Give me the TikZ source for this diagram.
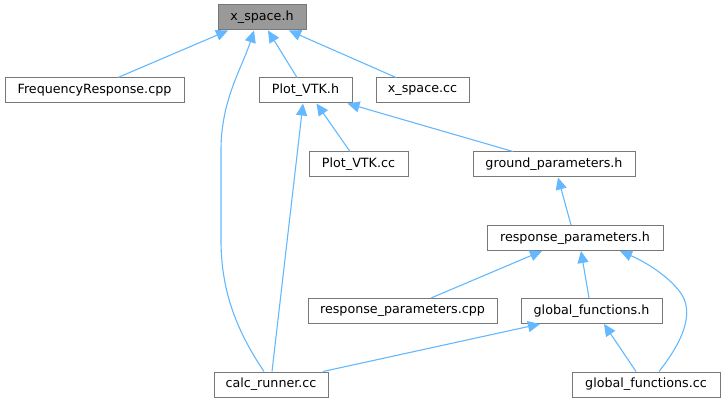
\documentclass[tikz,border=0pt]{standalone}
\usepackage{fontspec}
\setmainfont{DejaVu Sans}
\usetikzlibrary{arrows.meta}
\definecolor{edgeblue}{RGB}{99,184,255}
\definecolor{boxline}{RGB}{120,120,120}
\definecolor{boxfill}{RGB}{153,153,153}
\tikzset{
  file/.style={draw=boxline, fill=white, line width=1pt, minimum height=25, inner sep=0pt,
    font=\fontsize{12.7}{14}\selectfont},
  focus/.style={file, fill=boxfill},
  incl/.style={draw=edgeblue, line width=1.1pt, -{Triangle[length=12pt,width=11pt]}}
}

\begin{document}
\begin{tikzpicture}[x=1pt, y=-1pt]
  \useasboundingbox (0,0) rectangle (728,403);
  % ------------------------------------------------------------------ files
  \node[focus, minimum width=88] (xspace) at (262,17.5) {x\_space.h};
  \node[file, minimum width=179] (freq) at (94.5,90.5) {FrequencyResponse.cpp};
  \node[file, minimum width=93] (plotvtkh) at (305.5,90.5) {Plot\_VTK.h};
  \node[file, minimum width=93] (xspacecc) at (422.5,90.5) {x\_space.cc};
  \node[file, minimum width=99] (plotvtkcc) at (358.5,164.5) {Plot\_VTK.cc};
  \node[file, minimum width=162] (ground) at (554,164.5) {ground\_parameters.h};
  \node[file, minimum width=176] (resph) at (575,238) {response\_parameters.h};
  \node[file, minimum width=189] (respcpp) at (402.5,311) {response\_parameters.cpp};
  \node[file, minimum width=141] (globh) at (591.5,311) {global\_functions.h};
  \node[file, minimum width=114] (calc) at (271,384.5) {calc\_runner.cc};
  \node[file, minimum width=148] (globcc) at (646,384.5) {global\_functions.cc};
  % ------------------------------------------------------------------ includes
  \draw[incl] ([xshift=23.5pt]freq.north) -- ([xshift=-34pt]xspace.south);
  \draw[incl] ([xshift=-8.5pt]plotvtkh.north) -- ([xshift=6pt]xspace.south);
  \draw[incl] ([xshift=-26.5pt]xspacecc.north) -- ([xshift=27pt]xspace.south);
  \draw[incl] ([xshift=-7pt]calc.north) .. controls (236,330) and (221,290) .. (221,240)
    -- (221,150) .. controls (221,100) and (242,68) .. ([xshift=-8pt]xspace.south);
  \draw[incl] ([xshift=-8.5pt]plotvtkcc.north) -- ([xshift=11pt]plotvtkh.south);
  \draw[incl] ([xshift=-41pt]ground.north) -- ([xshift=42pt]plotvtkh.south);
  \draw[incl] ([xshift=1pt]calc.north) -- ([xshift=-2.5pt]plotvtkh.south);
  \draw[incl] ([xshift=-4pt]resph.north) -- ([xshift=4pt]ground.south);
  \draw[incl] ([xshift=28.5pt]respcpp.north) -- ([xshift=-33pt]resph.south);
  \draw[incl] ([xshift=-2.5pt]globh.north) -- ([xshift=6pt]resph.south);
  \draw[incl] ([xshift=13pt]globcc.north) .. controls (676,350) and (696,318) .. (682,295)
    .. controls (672,279) and (648,263) .. ([xshift=45pt]resph.south);
  \draw[incl] ([xshift=52pt]calc.north) -- ([xshift=-51.5pt]globh.south);
  \draw[incl] ([xshift=-10pt]globcc.north) -- ([xshift=12.5pt]globh.south);
\end{tikzpicture}
\end{document}
